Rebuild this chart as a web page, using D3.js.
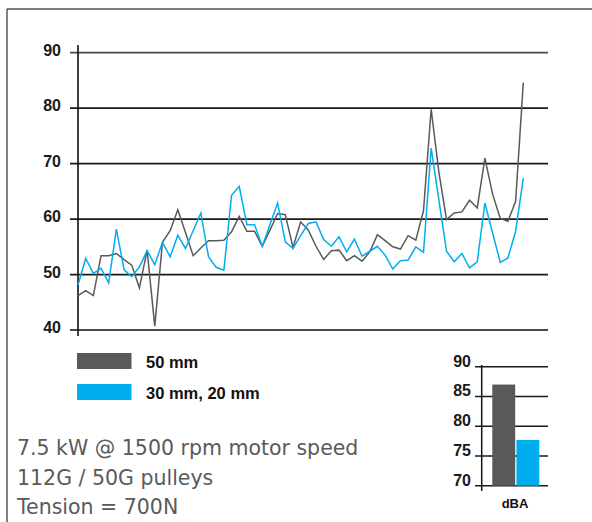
<!DOCTYPE html>
<html>
<head>
<meta charset="utf-8">
<script src="https://cdn.jsdelivr.net/npm/d3@7"></script>
<style>
  html, body { margin: 0; padding: 0; background: #fff; }
  svg { display: block; }
</style>
</head>
<body>
<svg id="chart" width="592" height="522"></svg>
<script>
// noise trace, one reading per step
const gray50 = [46.2, 47.1, 46.2, 53.4, 53.4, 53.8, 52.7, 51.7, 47.6, 54.4, 40.7, 55.8, 57.9, 61.7, 57.6,
  53.4, 54.8, 56.1, 56.1, 56.2, 57.7, 60.5, 57.8, 57.8, 55.1, 58.0, 61.0, 60.8, 54.9, 59.5,
  58.0, 55.1, 52.7, 54.3, 54.4, 52.5, 53.4, 52.4, 54.1, 57.2, 56.1, 55.0, 54.6, 57.0, 56.2,
  61.5, 79.8, 68.5, 59.9, 61.1, 61.3, 63.4, 62.0, 71.0, 64.5, 60.1, 59.6, 63.2, 84.6];
const blue3020 = [48.1, 52.9, 50.2, 51.1, 48.5, 58.2, 50.9, 49.6, 51.4, 54.3, 51.8, 55.8, 53.2, 57.1, 54.7,
  57.9, 61.1, 53.2, 51.3, 50.8, 64.3, 65.9, 59.0, 59.0, 55.1, 59.0, 62.9, 55.9, 54.7, 57.0,
  59.2, 59.5, 56.3, 55.1, 56.8, 54.1, 56.4, 53.3, 54.2, 55.1, 53.5, 51.0, 52.5, 52.6, 55.0,
  54.0, 72.8, 63.5, 54.2, 52.3, 53.8, 51.2, 52.3, 62.9, 57.5, 52.2, 53.0, 57.8, 67.4];

const seriesNames = ['50 mm', '30 mm, 20 mm'];
const seriesColors = ['#58595b', '#00aeef'];
const dbaValues = [87, 77.7];

const mainTicks = [40, 50, 60, 70, 80, 90];
const barTicks = [70, 75, 80, 85, 90];

const notes = ['7.5 kW @ 1500 rpm motor speed', '112G / 50G pulleys', 'Tension = 700N'];

const svg = d3.select('#chart');

// frame
svg.append('line')
  .attr('x1', 7).attr('x2', 592).attr('y1', 9).attr('y2', 9)
  .attr('stroke', '#7a7a7a').attr('stroke-width', 2);
svg.append('line')
  .attr('x1', 7).attr('x2', 7).attr('y1', 9).attr('y2', 522)
  .attr('stroke', '#555').attr('stroke-width', 1.5);

// main line chart
const xScale = d3.scaleLinear().domain([0, gray50.length - 1]).range([78, 523.3]);
const yScale = d3.scaleLinear().domain([40, 90]).range([330, 52.7]);

const gMain = svg.append('g');

gMain.selectAll('line.grid')
  .data(mainTicks)
  .enter()
  .append('line')
  .attr('class', 'grid')
  .attr('x1', 70).attr('x2', 548)
  .attr('y1', (d) => yScale(d)).attr('y2', (d) => yScale(d))
  .attr('stroke', (d) => (d === 90 || d === 40 ? '#4a4a4a' : '#1a1a1a'))
  .attr('stroke-width', 1.8);

gMain.selectAll('text.tick')
  .data(mainTicks)
  .enter()
  .append('text')
  .attr('class', 'tick')
  .attr('x', 61)
  .attr('y', (d) => yScale(d) + 3)
  .attr('text-anchor', 'end')
  .attr('font-family', 'Liberation Sans, Arial, sans-serif')
  .attr('font-weight', 'bold')
  .attr('font-size', 16)
  .attr('fill', '#1a1a1a')
  .text((d) => d);

gMain.append('line')
  .attr('x1', 78).attr('x2', 78).attr('y1', 45).attr('y2', 336)
  .attr('stroke', '#111').attr('stroke-width', 1.6);

const line = d3.line()
  .x((d, i) => xScale(i))
  .y((d) => yScale(d));

gMain.selectAll('path.trace')
  .data([gray50, blue3020])
  .enter()
  .append('path')
  .attr('class', 'trace')
  .attr('d', line)
  .attr('fill', 'none')
  .attr('stroke', (d, i) => seriesColors[i])
  .attr('stroke-width', 1.5)
  .attr('stroke-linejoin', 'miter');

// legend
const legend = svg.append('g')
  .selectAll('g')
  .data(seriesNames)
  .enter()
  .append('g')
  .attr('transform', (d, i) => `translate(77, ${353 + i * 31})`);

legend.append('rect')
  .attr('width', 54.5).attr('height', 16)
  .attr('fill', (d, i) => seriesColors[i]);

legend.append('text')
  .attr('x', 69).attr('y', 15)
  .attr('font-family', 'Liberation Sans, Arial, sans-serif')
  .attr('font-weight', 'bold')
  .attr('font-size', 16.5)
  .attr('fill', '#111')
  .text((d) => d);

// notes
svg.append('g')
  .selectAll('text')
  .data(notes)
  .enter()
  .append('text')
  .attr('x', 17)
  .attr('y', (d, i) => 455 + i * 29.5)
  .attr('font-family', 'DejaVu Sans, sans-serif')
  .attr('font-size', 20.5)
  .attr('fill', '#5a5a5a')
  .text((d) => d);

// dBA bar chart
const barY = d3.scaleLinear().domain([70, 90]).range([485.7, 366.7]);
const barX = d3.scaleBand().domain(seriesNames).range([492.3, 539.3]).paddingInner(0.05);

const gBar = svg.append('g');

gBar.selectAll('line.grid')
  .data(barTicks)
  .enter()
  .append('line')
  .attr('class', 'grid')
  .attr('x1', 475).attr('x2', 548)
  .attr('y1', (d) => barY(d)).attr('y2', (d) => barY(d))
  .attr('stroke', '#1a1a1a')
  .attr('stroke-width', 1.6);

gBar.selectAll('text.tick')
  .data(barTicks)
  .enter()
  .append('text')
  .attr('class', 'tick')
  .attr('x', 471)
  .attr('y', (d) => barY(d))
  .attr('text-anchor', 'end')
  .attr('font-family', 'Liberation Sans, Arial, sans-serif')
  .attr('font-weight', 'bold')
  .attr('font-size', 16)
  .attr('fill', '#1a1a1a')
  .text((d) => d);

gBar.selectAll('rect')
  .data(dbaValues)
  .enter()
  .append('rect')
  .attr('x', (d, i) => barX(seriesNames[i]))
  .attr('y', (d) => barY(d))
  .attr('width', barX.bandwidth())
  .attr('height', (d) => barY(70) - barY(d))
  .attr('fill', (d, i) => seriesColors[i]);

gBar.append('line')
  .attr('x1', 481.7).attr('x2', 481.7).attr('y1', 365).attr('y2', 491)
  .attr('stroke', '#111').attr('stroke-width', 1.5);

gBar.append('text')
  .attr('x', 515).attr('y', 508)
  .attr('text-anchor', 'middle')
  .attr('font-family', 'Liberation Sans, Arial, sans-serif')
  .attr('font-weight', 'bold')
  .attr('font-size', 13)
  .attr('fill', '#111')
  .text('dBA');
</script>
</body>
</html>
